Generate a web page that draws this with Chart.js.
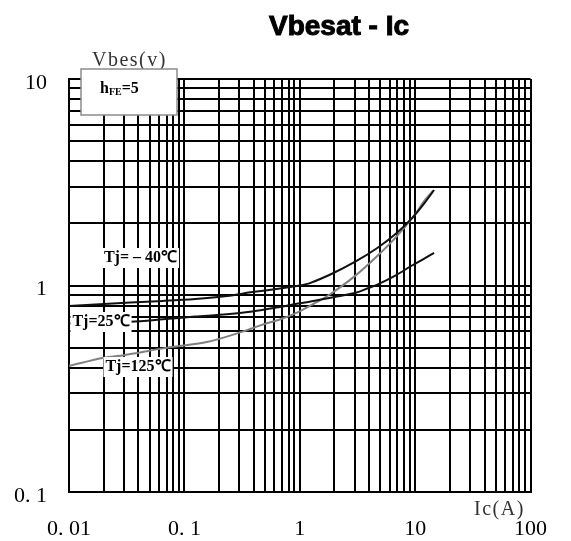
<!DOCTYPE html>
<html>
<head>
<meta charset="utf-8">
<script src="https://cdn.jsdelivr.net/npm/chart.js@4.4.1/dist/chart.umd.min.js"></script>
<style>
  html, body { margin: 0; padding: 0; background: #fff; }
</style>
</head>
<body>
<canvas id="myChartVbe" width="571" height="541"></canvas>
<script>
// datos (Ic en A, Vbe(sat) en V)
const ic_m40 = [0.01, 0.034, 0.065, 0.124, 0.234, 0.39, 0.7, 1, 1.24, 1.9, 3, 4.7, 6.8, 9.4, 12, 14.6]
const vbe_m40 = [0.796, 0.827, 0.842, 0.861, 0.89, 0.929, 0.97, 1.0, 1.03, 1.14, 1.3, 1.52, 1.78, 2.12, 2.5, 2.9]

const ic_25 = [0.01, 0.034, 0.065, 0.124, 0.234, 0.39, 0.7, 1, 1.24, 2, 3, 3.9, 4.7, 6.8, 9.4, 12, 14.6]
const vbe_25 = [0.655, 0.668, 0.686, 0.707, 0.726, 0.748, 0.79, 0.82, 0.837, 0.88, 0.92, 0.97, 1.01, 1.12, 1.25, 1.35, 1.44]

const ic_125 = [0.01, 0.02, 0.03, 0.065, 0.16, 0.32, 0.47, 0.7, 1, 1.4, 1.85, 3, 4.7, 6.8, 10, 12, 14.3]
const vbe_125 = [0.408, 0.447, 0.46, 0.496, 0.534, 0.598, 0.645, 0.69, 0.75, 0.83, 0.91, 1.11, 1.39, 1.71, 2.21, 2.57, 2.88]

// ticks
const x_decadas = [0.01, 0.1, 1, 10, 100]
const x_labels = ["0. 01", "0. 1", "1", "10", "100"]
const y_decadas = [0.1, 1, 10]
const y_labels = ["0. 1", "1", "10"]

const canvas_vbe = document.getElementById("myChartVbe")

const lineas_log = (decadas) => {
    let vals = []
    for (let i = 0; i < decadas.length - 1; i++) {
        for (let m = 1; m < 10; m++) {
            vals.push(Number((m * decadas[i]).toPrecision(3)))
        }
    }
    vals.push(decadas[decadas.length - 1])
    return vals
}

const etiqueta = (value, decadas, labels) => {
    const i = decadas.findIndex(d => Math.abs(d - value) / d < 1e-6)
    return i >= 0 ? labels[i] : ""
}

const juntar = (xs, ys) => xs.map((x, i) => ({ x: x, y: ys[i] }))

const caja_texto = (ctx, texto, cx, cy, font) => {
    ctx.font = font
    const w = ctx.measureText(texto).width
    ctx.fillStyle = "#fff"
    ctx.fillRect(cx - w / 2 - 2, cy - 10, w + 4, 20)
    ctx.fillStyle = "#000"
    ctx.textAlign = "center"
    ctx.textBaseline = "middle"
    ctx.fillText(texto, cx, cy)
}

const textos = {
    id: "textos",
    afterDraw(chart) {
        const ctx = chart.ctx
        ctx.save()

        // titulo (un poco mas grueso)
        ctx.font = 'bold 28px "Liberation Sans"'
        ctx.fillStyle = "#000"
        ctx.strokeStyle = "#000"
        ctx.lineWidth = 1
        ctx.textAlign = "center"
        ctx.textBaseline = "alphabetic"
        ctx.fillText("Vbesat - Ic", 339, 35)
        ctx.strokeText("Vbesat - Ic", 339, 35)

        // nombre de ejes
        ctx.font = '20px "Liberation Serif"'
        ctx.letterSpacing = "1.5px"
        ctx.fillStyle = "#333"
        ctx.textAlign = "left"
        ctx.fillText("Vbes(v)", 92, 66)
        ctx.fillText("Ic(A)", 474, 515)
        ctx.letterSpacing = "0px"

        // caja hFE
        ctx.fillStyle = "#fff"
        ctx.fillRect(81, 69, 96, 46)
        ctx.strokeStyle = "#8c8c8c"
        ctx.lineWidth = 1.5
        ctx.strokeRect(81, 69, 96, 46)
        ctx.fillStyle = "#000"
        ctx.font = 'bold 16px "Liberation Serif"'
        ctx.fillText("h", 100, 93)
        let xx = 100 + ctx.measureText("h").width
        ctx.font = 'bold 10px "Liberation Serif"'
        ctx.fillText("FE", xx, 95)
        xx += ctx.measureText("FE").width
        ctx.font = 'bold 16px "Liberation Serif"'
        ctx.fillText("=5", xx, 93)

        // etiquetas de curvas
        const f = 'bold 16px "Liberation Serif"'
        caja_texto(ctx, "Tj= – 40℃", 140.5, 258, f)
        caja_texto(ctx, "Tj=25℃", 101, 322, f)
        caja_texto(ctx, "Tj=125℃", 138, 367, f)

        ctx.restore()
    }
}

const myChart = new Chart(canvas_vbe, {
    type: "line",
    data: {
        datasets: [
            {
                label: "Tj=-40",
                data: juntar(ic_m40, vbe_m40),
                borderColor: "#111",
                borderWidth: 2,
                pointRadius: 0,
                tension: 0.3
            },
            {
                label: "Tj=25",
                data: juntar(ic_25, vbe_25),
                borderColor: "#111",
                borderWidth: 2,
                pointRadius: 0,
                tension: 0.3
            },
            {
                label: "Tj=125",
                data: juntar(ic_125, vbe_125),
                borderColor: "#808080",
                borderWidth: 2,
                pointRadius: 0,
                tension: 0.3
            }
        ]
    },
    options: {
        responsive: false,
        animation: false,
        devicePixelRatio: 1,
        layout: {
            padding: { top: 79, right: 22, bottom: 0, left: 0 }
        },
        plugins: {
            legend: { display: false },
            tooltip: { enabled: false },
            title: { display: false }
        },
        scales: {
            x: {
                type: "logarithmic",
                min: 0.01,
                max: 100,
                afterBuildTicks: (scale) => {
                    scale.ticks = lineas_log(x_decadas).map(v => ({ value: v }))
                },
                afterFit: (scale) => { scale.height = 49 },
                grid: { color: "#000", lineWidth: 2, drawTicks: false },
                border: { color: "#000", width: 2 },
                ticks: {
                    autoSkip: false,
                    maxRotation: 0,
                    padding: 24,
                    color: "#000",
                    font: { family: "Liberation Serif", size: 22 },
                    callback: (value) => etiqueta(value, x_decadas, x_labels)
                }
            },
            y: {
                type: "logarithmic",
                min: 0.1,
                max: 10,
                afterBuildTicks: (scale) => {
                    scale.ticks = lineas_log(y_decadas).map(v => ({ value: v }))
                },
                afterFit: (scale) => { scale.width = 69 },
                grid: { color: "#000", lineWidth: 2, drawTicks: false },
                border: { color: "#000", width: 2 },
                ticks: {
                    autoSkip: false,
                    padding: 22,
                    labelOffset: 4,
                    color: "#000",
                    font: { family: "Liberation Serif", size: 22 },
                    callback: (value) => etiqueta(value, y_decadas, y_labels)
                }
            }
        }
    },
    plugins: [textos]
})
</script>
</body>
</html>
